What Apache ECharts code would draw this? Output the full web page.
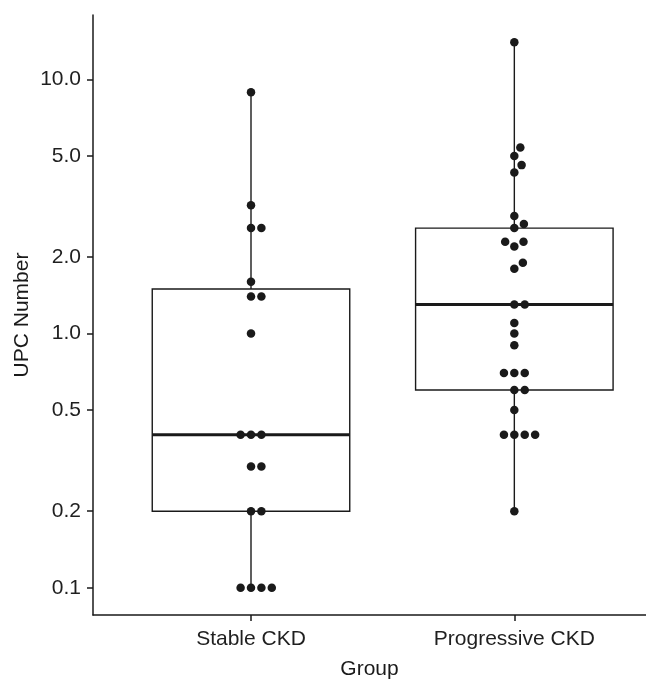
<!DOCTYPE html>
<html>
<head>
<meta charset="utf-8">
<script src="https://cdn.jsdelivr.net/npm/echarts@6/dist/echarts.min.js"></script>
<style>
  html, body { margin: 0; padding: 0; background: #fff; }
  #chart { width: 646px; height: 679px; }
</style>
</head>
<body>
<div id="chart"></div>
<script>
// values
const groups = ['Stable CKD', 'Progressive CKD'];
const stableUPC = [8.9, 3.2, 2.6, 2.6, 1.6, 1.4, 1.4, 1.0, 0.4, 0.4, 0.4, 0.3, 0.3, 0.2, 0.2, 0.1, 0.1, 0.1, 0.1];
const progressiveUPC = [14, 5.4, 5.0, 4.6, 4.3, 2.9, 2.7, 2.6, 2.3, 2.3, 2.2, 1.9, 1.8, 1.3, 1.3, 1.1, 1.0, 0.9,
  0.7, 0.7, 0.7, 0.6, 0.6, 0.5, 0.4, 0.4, 0.4, 0.4, 0.2];
const yTicks = [0.1, 0.2, 0.5, 1, 2, 5, 10];

const allGroups = [stableUPC, progressiveUPC];
const INK = '#1a1a1a';
const FONT = '"Liberation Sans", Arial, sans-serif';

// quantile (type 7) on sorted log values
function quantile(sorted, p) {
  const h = (sorted.length - 1) * p;
  const lo = Math.floor(h);
  const hi = Math.min(lo + 1, sorted.length - 1);
  return sorted[lo] + (h - lo) * (sorted[hi] - sorted[lo]);
}

// box stats on the log10 scale, like ggplot with a log y scale
function boxStats(values) {
  const s = values.map(Math.log10).sort((a, b) => a - b);
  const q1 = quantile(s, 0.25), med = quantile(s, 0.5), q3 = quantile(s, 0.75);
  const iqr = q3 - q1;
  const lo = s.filter(v => v >= q1 - 1.5 * iqr)[0];
  const inside = s.filter(v => v <= q3 + 1.5 * iqr);
  return [lo, q1, med, q3, inside[inside.length - 1]];
}

const boxData = allGroups.map((vals, i) => [i].concat(boxStats(vals)));

// y range with 5% expansion, in log10 units
const allLog = allGroups.flat().map(Math.log10);
const lMin = Math.min(...allLog), lMax = Math.max(...allLog);
const pad = (lMax - lMin) * 0.05;

const chart = echarts.init(document.getElementById('chart'));

const option = {
  animation: false,
  grid: { left: 93, right: 0, top: 15, bottom: 64, outerBoundsMode: 'none', containLabel: false },
  xAxis: {
    type: 'value',
    min: -0.6,
    max: 1.5,
    name: 'Group',
    nameLocation: 'middle',
    nameGap: 44,
    nameTextStyle: { color: INK, fontFamily: FONT, fontSize: 21 },
    axisLine: { show: true, onZero: false, lineStyle: { color: INK, width: 1.5 } },
    axisTick: { show: true, length: 6, customValues: [0, 1], lineStyle: { color: INK, width: 1.5 } },
    axisLabel: {
      customValues: [0, 1],
      formatter: v => groups[Math.round(v)],
      margin: 14,
      color: '#1f1f1f',
      fontFamily: FONT,
      fontSize: 21
    },
    splitLine: { show: false }
  },
  yAxis: {
    type: 'value',
    min: lMin - pad,
    max: lMax + pad,
    name: 'UPC Number',
    nameLocation: 'middle',
    nameGap: 60,
    nameMoveOverlap: false,
    nameTextStyle: { color: INK, fontFamily: FONT, fontSize: 21 },
    axisLine: { show: true, onZero: false, lineStyle: { color: INK, width: 1.5 } },
    axisTick: { show: true, length: 6, customValues: yTicks.map(Math.log10), lineStyle: { color: INK, width: 1.5 } },
    axisLabel: {
      customValues: yTicks.map(Math.log10),
      formatter: v => Math.pow(10, v).toFixed(1),
      margin: 12,
      color: '#1f1f1f',
      fontFamily: FONT,
      fontSize: 21
    },
    splitLine: { show: false }
  },
  series: [
    {
      type: 'custom',
      z: 1,
      data: boxData,
      encode: { x: 0, y: [1, 2, 3, 4, 5] },
      renderItem: (params, api) => {
        const x = api.value(0);
        const hw = 0.375;
        const pMin = api.coord([x, api.value(1)]);
        const pQ1 = api.coord([x, api.value(2)]);
        const pMed = api.coord([x, api.value(3)]);
        const pQ3 = api.coord([x, api.value(4)]);
        const pMax = api.coord([x, api.value(5)]);
        const left = api.coord([x - hw, api.value(3)])[0];
        const right = api.coord([x + hw, api.value(3)])[0];
        return {
          type: 'group',
          children: [
            { type: 'line', shape: { x1: pMax[0], y1: pMax[1], x2: pQ3[0], y2: pQ3[1] }, style: { stroke: INK, lineWidth: 1.4 } },
            { type: 'line', shape: { x1: pQ1[0], y1: pQ1[1], x2: pMin[0], y2: pMin[1] }, style: { stroke: INK, lineWidth: 1.4 } },
            { type: 'rect', shape: { x: left, y: pQ3[1], width: right - left, height: pQ1[1] - pQ3[1] }, style: { fill: '#fff', stroke: INK, lineWidth: 1.4 } },
            { type: 'line', shape: { x1: left, y1: pMed[1], x2: right, y2: pMed[1] }, style: { stroke: INK, lineWidth: 3 } }
          ]
        };
      }
    },
    {
      type: 'scatter',
      z: 3,
      symbolSize: 8.5,
      itemStyle: { color: INK, opacity: 1 },
      data: []
    }
  ]
};

chart.setOption(option);

// beeswarm: place dots in ascending order, as close to the centre as they fit
function swarmOffsets(values, yPx, spacing) {
  const order = values.map((v, i) => i).sort((a, b) => values[a] - values[b] || a - b);
  const placed = [];
  const offs = new Array(values.length);
  order.forEach(i => {
    const y = yPx(values[i]);
    const near = placed.filter(p => Math.abs(p.y - y) < spacing);
    const cands = [0];
    near.forEach(p => {
      const dx = Math.sqrt(spacing * spacing - (p.y - y) * (p.y - y));
      cands.push(p.x + dx, p.x - dx);
    });
    const ok = cands.filter(c => near.every(p => Math.hypot(p.x - c, p.y - y) >= spacing - 1e-6));
    ok.sort((a, b) => {
      const d = Math.abs(a) - Math.abs(b);
      return Math.abs(d) > 1e-6 ? d : b - a;
    });
    placed.push({ x: ok[0], y });
    offs[i] = ok[0];
  });
  return offs;
}

const toPx = v => chart.convertToPixel({ gridIndex: 0 }, [0, Math.log10(v)])[1];
const unitPx = chart.convertToPixel({ gridIndex: 0 }, [1, 0])[0] - chart.convertToPixel({ gridIndex: 0 }, [0, 0])[0];

const dots = [];
allGroups.forEach((vals, gi) => {
  const offs = swarmOffsets(vals, toPx, 10.4);
  vals.forEach((v, i) => dots.push([gi + offs[i] / unitPx, Math.log10(v)]));
});

chart.setOption({ series: [{}, { data: dots }] });

new ResizeObserver(() => chart.resize()).observe(document.getElementById('chart'));
</script>
</body>
</html>
